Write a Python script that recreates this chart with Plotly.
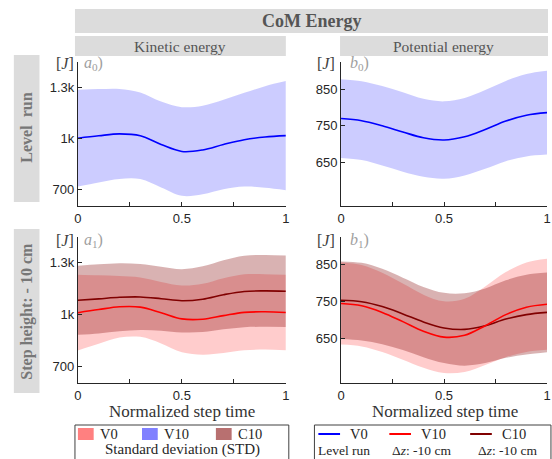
import plotly.graph_objects as go

# Normalized step time samples
t = [0.0, 0.1, 0.2, 0.3, 0.4, 0.5, 0.6, 0.7, 0.8, 0.9, 1.0]

# Kinetic energy [J]
ke_v0_mean = [1003, 1017, 1028, 1017, 966, 925, 934, 966, 994, 1010, 1018]
ke_v0_std = [284, 274, 264, 254, 252, 260, 260, 263, 275, 298, 320]
ke_v10_mean = [1012, 1030, 1046, 1044, 1012, 976, 974, 995, 1014, 1017, 1013]
ke_v10_std = [219, 198, 178, 172, 178, 193, 205, 216, 220, 218, 219]
ke_c10_mean = [1084, 1092, 1101, 1103, 1093, 1081, 1090, 1116, 1135, 1138, 1136]
ke_c10_std = [200, 200, 197, 191, 185, 183, 190, 200, 207, 208, 207]

# Potential energy [J]
pe_v0_mean = [770, 764, 750, 733, 717, 711, 720, 740, 763, 779, 786]
pe_v0_std = [108, 108, 109, 109, 107, 106, 106, 108, 110, 113, 115]
pe_v10_mean = [745, 739, 721, 696, 670, 654, 659, 685, 715, 735, 743]
pe_v10_std = [111, 110, 107, 103, 99, 97, 99, 106, 115, 121, 123]
pe_c10_mean = [754, 750, 737, 717, 695, 679, 675, 685, 703, 715, 721]
pe_c10_std = [105, 105, 102, 98, 95, 95, 98, 101, 105, 108, 108]

x_tickvals = [0, 0.25, 0.5, 0.75, 1]
x_ticktext = ["0", "", "0.5", "", "1"]
ke_tickvals = [700, 1000, 1300]
ke_ticktext = ["700", "1k", "1.3k"]
pe_tickvals = [650, 750, 850]
pe_ticktext = ["650", "750", "850"]

W, H = 552, 459
SERIF = "Liberation Serif"
SANS = "Liberation Sans"

BLUE = "#0000ff"
RED = "#ff0000"
DARK = "#800000"
BLUE_FILL = "rgba(0,0,255,0.2)"
RED_FILL = "rgba(255,0,0,0.2)"
DARK_FILL = "rgba(128,0,0,0.3)"


def px_x(p):
    return p / W


def px_y(p):
    return 1 - p / H


fig = go.Figure()


def add_band(xa, ya, mean, std, fill):
    upper = [m + s for m, s in zip(mean, std)]
    lower = [m - s for m, s in zip(mean, std)]
    fig.add_trace(go.Scatter(x=t, y=upper, mode="lines", line=dict(width=0, shape="spline"),
                             xaxis=xa, yaxis=ya, showlegend=False, hoverinfo="skip"))
    fig.add_trace(go.Scatter(x=t, y=lower, mode="lines", line=dict(width=0, shape="spline"),
                             fill="tonexty", fillcolor=fill,
                             xaxis=xa, yaxis=ya, showlegend=False, hoverinfo="skip"))


def add_line(xa, ya, mean, color):
    fig.add_trace(go.Scatter(x=t, y=mean, mode="lines",
                             line=dict(color=color, width=1.6, shape="spline"),
                             xaxis=xa, yaxis=ya, showlegend=False))


# a0: kinetic, level run
add_band("x", "y", ke_v0_mean, ke_v0_std, BLUE_FILL)
add_line("x", "y", ke_v0_mean, BLUE)
# b0: potential, level run
add_band("x2", "y2", pe_v0_mean, pe_v0_std, BLUE_FILL)
add_line("x2", "y2", pe_v0_mean, BLUE)
# a1: kinetic, step down
add_band("x3", "y3", ke_v10_mean, ke_v10_std, RED_FILL)
add_band("x3", "y3", ke_c10_mean, ke_c10_std, DARK_FILL)
add_line("x3", "y3", ke_c10_mean, DARK)
add_line("x3", "y3", ke_v10_mean, RED)
# b1: potential, step down
add_band("x4", "y4", pe_v10_mean, pe_v10_std, RED_FILL)
add_band("x4", "y4", pe_c10_mean, pe_c10_std, DARK_FILL)
add_line("x4", "y4", pe_c10_mean, DARK)
add_line("x4", "y4", pe_v10_mean, RED)

AX = "#262626"
common_x = dict(range=[0, 1], showgrid=False, zeroline=False, showline=True, linecolor=AX,
                linewidth=1, ticks="inside", ticklen=4, tickcolor=AX,
                tickvals=x_tickvals, ticktext=x_ticktext,
                tickfont=dict(family=SANS, size=13, color=AX))
common_y = dict(showgrid=False, zeroline=False, showline=True, linecolor=AX,
                linewidth=1, ticks="inside", ticklen=4, tickcolor=AX,
                tickfont=dict(family=SANS, size=13, color=AX))

left = [px_x(75), px_x(286)]
right = [px_x(342), px_x(551)]
top = [px_y(206), px_y(62)]
bottom = [px_y(383), px_y(237)]
ke_range = [605, 1450]
pe_range = [530, 925]

fig.update_layout(
    xaxis=dict(domain=left, anchor="y", **common_x),
    yaxis=dict(domain=top, anchor="x", range=ke_range, tickvals=ke_tickvals,
               ticktext=ke_ticktext, **common_y),
    xaxis2=dict(domain=right, anchor="y2", **common_x),
    yaxis2=dict(domain=top, anchor="x2", range=pe_range, tickvals=pe_tickvals,
                ticktext=pe_ticktext, **common_y),
    xaxis3=dict(domain=left, anchor="y3", **common_x),
    yaxis3=dict(domain=bottom, anchor="x3", range=ke_range, tickvals=ke_tickvals,
                ticktext=ke_ticktext, **common_y),
    xaxis4=dict(domain=right, anchor="y4", **common_x),
    yaxis4=dict(domain=bottom, anchor="x4", range=pe_range, tickvals=pe_tickvals,
                ticktext=pe_ticktext, **common_y),
)

shapes = []
annotations = []
BOX = "#dcdcdc"
HEAD = "#555555"


def rect(x0, y0, x1, y1, fill=None, line=None):
    shapes.append(dict(type="rect", xref="paper", yref="paper",
                       x0=px_x(x0), x1=px_x(x1), y0=px_y(y1), y1=px_y(y0),
                       fillcolor=fill if fill else "rgba(0,0,0,0)",
                       line=dict(width=1 if line else 0, color=line if line else "rgba(0,0,0,0)"),
                       layer="below"))


def label(x, y, s, size, color, family=SERIF, xanchor="center", angle=0):
    annotations.append(dict(x=px_x(x), y=px_y(y), xref="paper", yref="paper", text=s,
                            showarrow=False, xanchor=xanchor, yanchor="middle",
                            textangle=angle,
                            font=dict(family=family, size=size, color=color, weight="normal")))


# Header strips
rect(72, 9, 552, 33, fill=BOX)
label(312, 21, "<b>CoM Energy</b>", 18, HEAD)
rect(72, 36, 286, 56, fill=BOX)
label(179, 46, "Kinetic energy", 15.5, HEAD)
rect(341, 36, 552, 56, fill=BOX)
label(446, 46, "Potential energy", 15.5, HEAD)

# Row strips
rect(10, 55, 36, 202, fill=BOX)
label(23, 128, "<b>Level  run</b>", 16, "#777777", angle=-90)
rect(10, 229, 36, 393, fill=BOX)
label(23, 311, "<b>Step height: - 10 cm</b>", 16, "#777777", angle=-90)

# Unit and panel tags
TAG_GRAY = "#a0a0a0"
for ux, tx, ty, tag in [(73, 79, 64, "<i>a</i><sub>0</sub>)"),
                        (338, 349, 64, "<i>b</i><sub>0</sub>)"),
                        (73, 79, 240, "<i>a</i><sub>1</sub>)"),
                        (338, 349, 240, "<i>b</i><sub>1</sub>)")]:
    label(ux, ty, "[<i>J</i>]", 16, "#404040", xanchor="right")
    label(tx, ty, tag, 16, TAG_GRAY, xanchor="left")

# Axis titles
label(181, 411, "Normalized step time", 17, "#333333")
label(447, 411, "Normalized step time", 17, "#333333")

# Legend: shaded bands
rect(72, 425, 289, 462, line="#404040")
for sx, col, name in [(75, "#ff8080", "V0"), (140, "#8080ff", "V10"), (215, "#b87070", "C10")]:
    rect(sx, 428, sx + 16, 440, fill=col)
    label(sx + 20, 434, name, 14.5, "#262626", xanchor="left")
label(181, 449, "Standard deviation (STD)", 15, "#262626")

# Legend: mean lines
rect(315, 425, 555, 462, line="#404040")
for lx, col, name, sub, subx in [(319, BLUE, "V0", "Level run", 345),
                                 (391, RED, "V10", "Δ<i>z</i>: -10 cm", 424),
                                 (473, DARK, "C10", "Δ<i>z</i>: -10 cm", 511)]:
    shapes.append(dict(type="line", xref="paper", yref="paper",
                       x0=px_x(lx), x1=px_x(lx + 22), y0=px_y(434), y1=px_y(434),
                       line=dict(color=col, width=2)))
    label(lx + 30, 434, name, 14.5, "#262626", xanchor="left")
    label(subx, 450, sub, 13.5, "#262626")

fig.update_layout(
    width=W, height=H, margin=dict(l=0, r=0, t=0, b=0),
    paper_bgcolor="white", plot_bgcolor="white",
    showlegend=False, shapes=shapes, annotations=annotations,
)

fig.write_html("out.html")
